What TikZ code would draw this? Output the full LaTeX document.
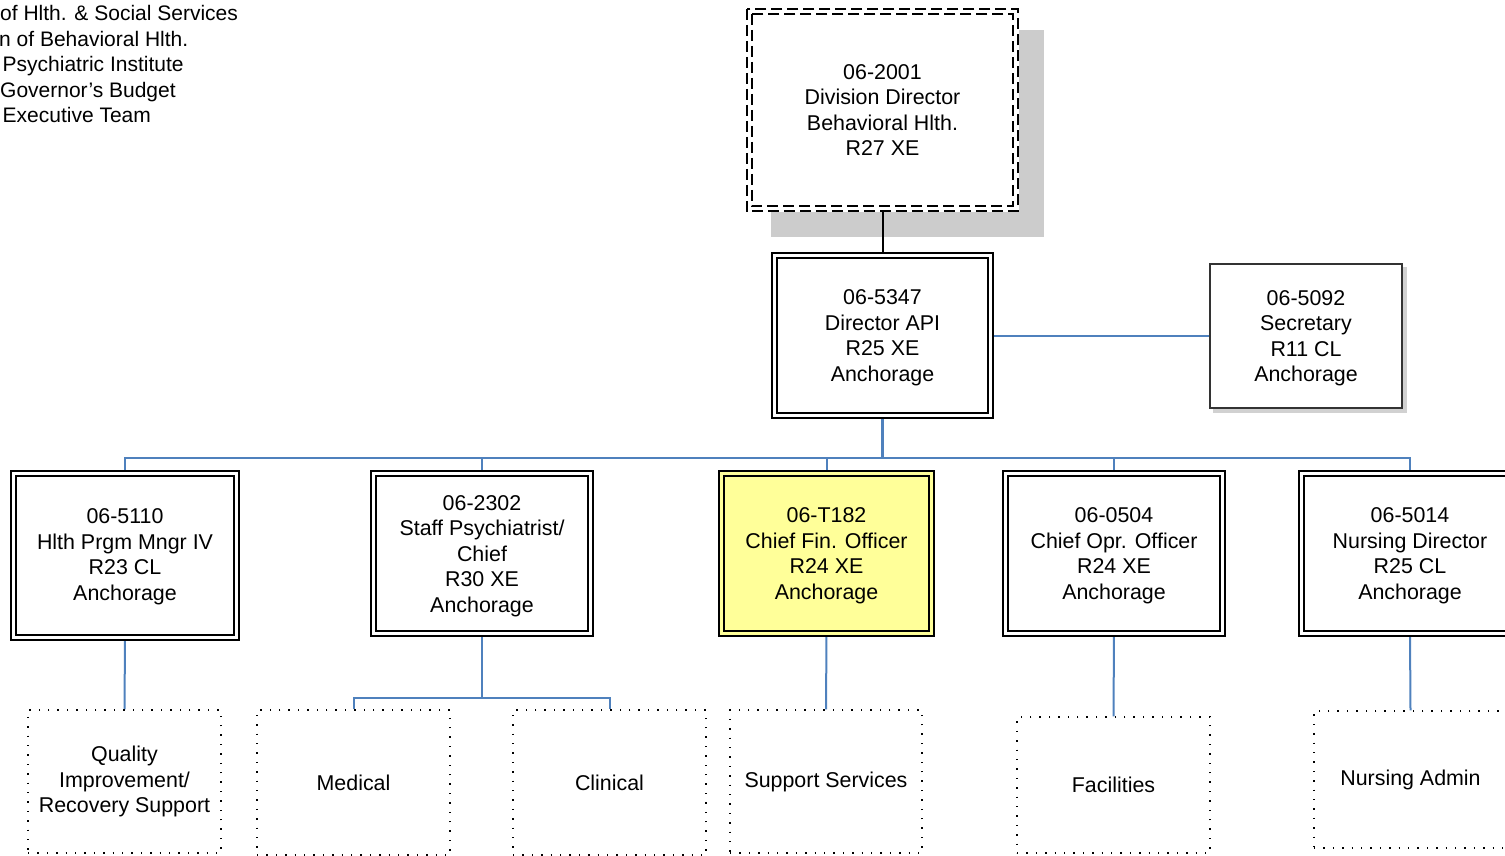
\documentclass[tikz,border=0pt]{standalone}
\usepackage{fontspec}
\setmainfont{Liberation Sans}
\usetikzlibrary{backgrounds}
\definecolor{conn}{HTML}{4F81BD}
\definecolor{boxyellow}{HTML}{FFFF99}
\definecolor{shadowgray}{HTML}{CCCCCC}
\newcommand{\upstrut}{\rule{0pt}{19.5pt}}
\begin{document}
\begin{tikzpicture}[x=1pt,y=-1pt,
  every node/.style={font=\fontsize{21.4}{25.5}\selectfont, align=center, inner sep=0pt},
  hdr/.style={anchor=base west, font=\fontsize{21}{25.5}\selectfont},
  dblbox/.style={draw=black, line width=1.8pt, double=white, double distance=3.2pt, fill=white},
  dotbox/.style={draw=black, line width=1.4pt, dash pattern=on 1.4pt off 8pt},
  dashbox/.style={draw=black, line width=2pt, dash pattern=on 11pt off 5pt},
  link/.style={draw=conn, line width=2pt},
  thicklink/.style={draw=conn, line width=2.8pt}]
\clip (0,0) rectangle (1505,855);

% header text (clipped at left)
\node[hdr] (t1) at (0,20.5) {of Hlth. \& Social Services};
\node[hdr] (t2) at (-1,46) {n of Behavioral Hlth.};
\node[hdr] (t3) at (2.5,71.5) {Psychiatric Institute};
\node[hdr] (t4) at (0,97) {Governor’s Budget};
\node[hdr] (t5) at (2.5,122.5) {Executive Team};

% top box
\node[minimum width=273pt, minimum height=204pt, fill=white] (top) at (882.5,110)
  {06-2001\\Division Director\\Behavioral Hlth.\\R27 XE};
\draw[dashbox] ([shift={(1,1)}]top.north west) rectangle ([shift={(-1,-1)}]top.south east);
\draw[dashbox] ([shift={(6,6)}]top.north west) rectangle ([shift={(-6,-6)}]top.south east);

% director
\node[dblbox, minimum width=216.4pt, minimum height=160.4pt] (dir) at (882.5,335.5)
  {\upstrut06-5347\\Director API\\R25 XE\\Anchorage};

% secretary
\node[draw=black!80, line width=1.2pt, fill=white, minimum width=192pt, minimum height=144pt] (sec) at (1306,336)
  {\upstrut06-5092\\Secretary\\R11 CL\\Anchorage};

% second row
\node[dblbox, minimum width=223.4pt, minimum height=164.4pt] (b1) at (125,555.5)
  {\rule{0pt}{17.5pt}06-5110\\Hlth Prgm Mngr IV\\R23 CL\\Anchorage};
\node[dblbox, minimum width=217.4pt, minimum height=160.4pt] (b2) at (482,553.5)
  {\upstrut06-2302\\Staff Psychiatrist/\\Chief\\R30 XE\\Anchorage};
\node[dblbox, double=boxyellow, fill=boxyellow, minimum width=210.4pt, minimum height=160.4pt] (b3) at (826.5,553.5)
  {\upstrut06-T182\\Chief Fin. Officer\\R24 XE\\Anchorage};
\node[dblbox, minimum width=217.4pt, minimum height=160.4pt] (b4) at (1114,553.5)
  {\upstrut06-0504\\Chief Opr. Officer\\R24 XE\\Anchorage};
\node[dblbox, minimum width=217.4pt, minimum height=160.4pt] (b5) at (1410,553.5)
  {\upstrut06-5014\\Nursing Director\\R25 CL\\Anchorage};

% bottom row
\node[dotbox, minimum width=193pt, minimum height=143pt] (d1) at (124.5,781.5)
  {Quality\\Improvement/\\Recovery Support};
\node[dotbox, minimum width=193pt, minimum height=145pt] (d2) at (353.5,782.5) {Medical};
\node[dotbox, minimum width=193pt, minimum height=145pt] (d3) at (609.5,782.5) {Clinical};
\node[dotbox, minimum width=192pt, minimum height=143pt] (d4) at (826,781.5) {Support Services};
\node[dotbox, minimum width=193pt, minimum height=136pt] (d5) at (1113.5,785) {Facilities};
\node[dotbox, minimum width=193pt, minimum height=137pt] (d6) at (1410.5,779.5) {Nursing Admin};

\coordinate (bus) at (882.5,458);
\coordinate (sub) at (482,698);

\begin{scope}[on background layer]
  \fill[shadowgray] (771,30) rectangle (1044,237);
  \fill[black!18] ([shift={(4,4)}]sec.north west) rectangle ([shift={(4,4)}]sec.south east);
  \draw[black, line width=2pt] (top.south) -- (dir.north);
  \draw[link] (dir.east) -- (dir.east -| sec.west);
  \draw[link] (b1.north) |- (bus) -| (b5.north);
  \draw[thicklink] (b2.north) |- (bus) -| (b4.north);
  \draw[thicklink] (dir.south) -- (bus);
  \draw[link] (b3.north) -- (b3.north |- bus);
  \draw[link] (b1.south) -- (d1.north);
  \draw[link] (b2.south) -- (sub);
  \draw[link] (d2.north) |- (sub) -| (d3.north);
  \draw[link] (b3.south) -- (d4.north);
  \draw[link] (b4.south) -- (d5.north);
  \draw[link] (b5.south) -- (d6.north);
\end{scope}
\end{tikzpicture}
\end{document}
